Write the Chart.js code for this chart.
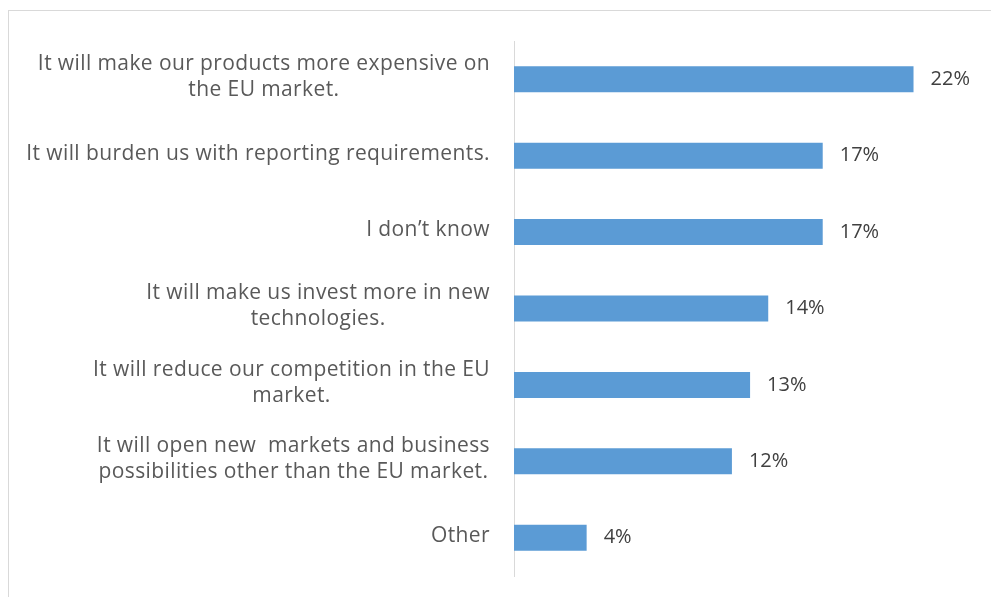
<!DOCTYPE html>
<html>
<head>
<meta charset="utf-8">
<script src="https://cdn.jsdelivr.net/npm/chart.js@4.4.1/dist/chart.umd.min.js"></script>
<style>
  html, body { margin: 0; padding: 0; background: #fff; }
  #wrap { position: relative; width: 991px; height: 597px; overflow: hidden; }
  #frame { position: absolute; left: 8px; top: 10px; width: 1000px; height: 600px;
           border-left: 1px solid #d9d9d9; border-top: 1px solid #d9d9d9; }
  canvas { position: absolute; left: 0; top: 0; }
</style>
</head>
<body>
<div id="wrap">
  <div id="frame"></div>
  <canvas id="chart" width="991" height="597"></canvas>
</div>
<script>
// answers, each one a list of lines as they wrap next to the bar
var categories = [
  ['It will make our products more expensive on', 'the EU market.'],
  ['It will burden us with reporting requirements.'],
  ['I don\u2019t know'],
  ['It will make us invest more in new', 'technologies.'],
  ['It will reduce our competition in the EU', 'market.'],
  ['It will open new  markets and business', 'possibilities other than the EU market.'],
  ['Other']
];
var shares = [22, 17, 17, 14, 13, 12, 4];

var FONT = '"Open Sans", sans-serif';

// category text: block right-aligned against the axis, lines centred inside the block
var categoryLabels = {
  id: 'categoryLabels',
  afterDraw: function (chart) {
    var ctx = chart.ctx, yScale = chart.scales.y;
    var right = chart.chartArea.left - 24, lineH = 26;
    ctx.save();
    ctx.font = '21px ' + FONT;
    ctx.letterSpacing = '0.4px';
    ctx.fillStyle = '#595959';
    ctx.textAlign = 'center';
    ctx.textBaseline = 'middle';
    categories.forEach(function (lines, i) {
      var w = Math.max.apply(null, lines.map(function (l) { return ctx.measureText(l).width; }));
      var cx = right - w / 2;
      var cy = yScale.getPixelForValue(i) - 2;
      var y0 = cy - (lines.length - 1) * lineH / 2;
      lines.forEach(function (l, k) { ctx.fillText(l, cx, y0 + k * lineH); });
    });
    ctx.restore();
  }
};

// percentage next to the end of each bar
var valueLabels = {
  id: 'valueLabels',
  afterDatasetsDraw: function (chart) {
    var ctx = chart.ctx;
    ctx.save();
    ctx.font = '20px ' + FONT;
    ctx.fillStyle = '#404040';
    ctx.textAlign = 'left';
    ctx.textBaseline = 'middle';
    chart.getDatasetMeta(0).data.forEach(function (bar, i) {
      ctx.fillText(shares[i] + '%', bar.x + 17, bar.y);
    });
    ctx.restore();
  }
};

new Chart(document.getElementById('chart'), {
  type: 'bar',
  data: {
    labels: categories.map(function (c) { return c.join(' '); }),
    datasets: [{
      data: shares,
      backgroundColor: '#5b9bd5',
      borderWidth: 0,
      barPercentage: 0.34,
      categoryPercentage: 1
    }]
  },
  options: {
    indexAxis: 'y',
    responsive: false,
    animation: false,
    layout: { padding: { left: 0, right: 23, top: 41, bottom: 21 } },
    plugins: { legend: { display: false }, tooltip: { enabled: false } },
    scales: {
      x: {
        min: 0, max: 25,
        display: false
      },
      y: {
        grid: { display: false },
        border: { display: true, color: '#d9d9d9', width: 1 },
        ticks: { display: false },
        afterFit: function (scale) { scale.width = 514; }
      }
    }
  },
  plugins: [categoryLabels, valueLabels]
});
</script>
</body>
</html>
